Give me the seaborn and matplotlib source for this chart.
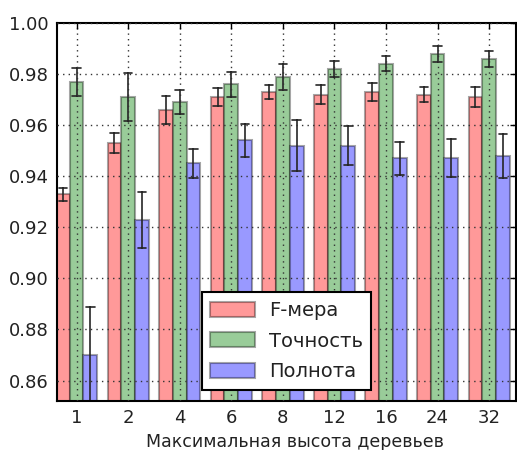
import numpy as np
import pandas as pd
import matplotlib
matplotlib.use("Agg")
import matplotlib.pyplot as plt
import seaborn as sns

# ---- data ----
depths = ["1", "2", "4", "6", "8", "12", "16", "24", "32"]
series_names = ["F-мера", "Точность", "Полнота"]
f_measure = [0.933, 0.953, 0.966, 0.971, 0.973, 0.972, 0.973, 0.972, 0.971]
f_err = [0.0025, 0.0039, 0.0056, 0.0035, 0.0029, 0.0036, 0.0037, 0.0031, 0.0040]
precision = [0.977, 0.971, 0.969, 0.976, 0.979, 0.982, 0.984, 0.988, 0.986]
precision_err = [0.0054, 0.0093, 0.0048, 0.0050, 0.0051, 0.0033, 0.0029, 0.0031, 0.0031]
recall = [0.870, 0.923, 0.945, 0.954, 0.952, 0.952, 0.947, 0.947, 0.948]
recall_err = [0.0188, 0.0110, 0.0058, 0.0065, 0.0101, 0.0077, 0.0065, 0.0074, 0.0085]
y_ticks = [0.86, 0.88, 0.90, 0.92, 0.94, 0.96, 0.98, 1.00]
x_label = "Максимальная высота деревьев"
colors = ["#ff9999", "#99cc99", "#9999ff"]

# long table: two rows per bar (value - err, value + err) -> mean = value, min/max = error bar
rows = []
for name, vals, errs in zip(series_names,
                            [f_measure, precision, recall],
                            [f_err, precision_err, recall_err]):
    for d, v, e in zip(depths, vals, errs):
        rows.append({"depth": d, "metric": name, "value": v - e})
        rows.append({"depth": d, "metric": name, "value": v + e})
df = pd.DataFrame(rows)

sns.set_theme(style="white")
plt.rcParams.update({
    "font.family": ["DejaVu Sans"],
    "xtick.direction": "in",
    "ytick.direction": "in",
    "xtick.top": True,
    "ytick.right": True,
    "xtick.major.size": 4,
    "ytick.major.size": 4,
    "xtick.color": "black",
    "ytick.color": "black",
    "axes.edgecolor": "black",
    "axes.linewidth": 1.5,
    "text.color": "#222222",
    "axes.labelcolor": "#222222",
})

fig = plt.figure(figsize=(5.17, 4.5), dpi=100)
ax = fig.add_axes([57 / 517, 1 - 401 / 450, 459 / 517, 378 / 450])

sns.barplot(data=df, x="depth", y="value", hue="metric",
            order=depths, hue_order=series_names, palette=colors,
            estimator="mean", errorbar=lambda x: (x.min(), x.max()),
            capsize=0.5, err_kws={"color": "0.15", "linewidth": 1.2},
            edgecolor=(0, 0, 0, 0.35), linewidth=1.5, saturation=1,
            width=0.8, ax=ax)

ax.set_ylim(0.852, 1.0)
ax.set_xlim(-0.38, 8.52)
ax.set_yticks(y_ticks)
ax.set_yticklabels([f"{t:.2f}" for t in y_ticks])
ax.tick_params(axis="both", labelsize=13, width=1, pad=6, labelcolor="#222222")
ax.set_ylabel("")
ax.set_xlabel(x_label, fontsize=12.5)
ax.xaxis.set_label_coords(0.518, -0.085)

ax.set_axisbelow(False)
ax.grid(True, color="0.2", linestyle=(0, (1, 3)), linewidth=1.0)

for s in ax.spines.values():
    s.set_visible(True)
    s.set_linewidth(1.5)
    s.set_color("black")

handles, labels = ax.get_legend_handles_labels()
if ax.get_legend() is not None:
    ax.get_legend().remove()
leg = ax.legend(handles, labels, loc="lower left", bbox_to_anchor=(0.315, 0.029),
                borderaxespad=0, fontsize=14, frameon=True, fancybox=False,
                framealpha=1, edgecolor="black", handlelength=2.3,
                handleheight=0.82, handletextpad=0.7, labelspacing=0.6,
                borderpad=0.45)
leg.get_frame().set_linewidth(1.5)

fig.savefig("out.png", dpi=100)
